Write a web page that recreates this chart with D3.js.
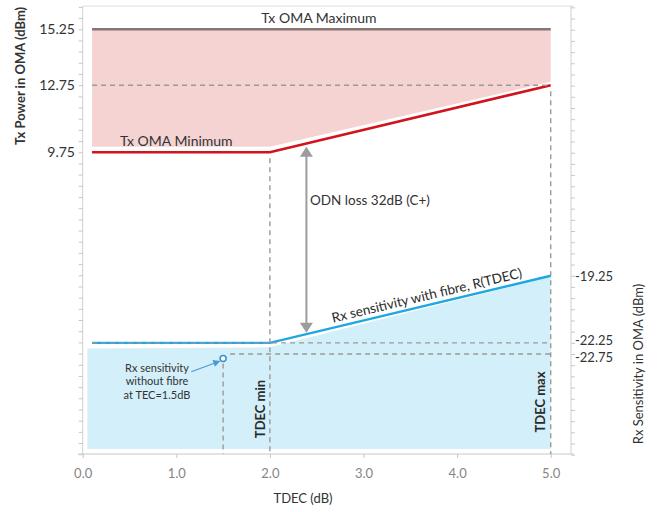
<!DOCTYPE html>
<html>
<head>
<meta charset="utf-8">
<script src="https://cdn.jsdelivr.net/npm/d3@7/dist/d3.min.js"></script>
<style>
  html, body { margin: 0; padding: 0; background: #fff; }
  svg { display: block; font-family: Lato, "Open Sans", sans-serif; }
</style>
</head>
<body>
<svg id="chart" width="668" height="512"></svg>
<script>
// ---------- data ----------
const tdec = [0.1, 2.0, 5.0];                 // TDEC breakpoints (dB)
const txMax = [15.25, 15.25, 15.25];          // Tx OMA maximum (dBm)
const txMin = [9.75, 9.75, 12.75];            // Tx OMA minimum (dBm)
const rxSens = [-22.25, -22.25, -19.25];      // Rx sensitivity with fibre (dBm)
const txFillX = [0.1, 2.0, 5.0];
const txFillBottom = [10.0, 10.0, 12.9];
const rxFillX = [0.05, 2.0, 5.0];
const rxFillTop = [-22.5, -22.45, -19.3];
const rxFloor = -27.0;
const xTicks = [0, 1, 2, 3, 4, 5];
const leftTickLabels = [15.25, 12.75, 9.75];
const rightTickLabels = [-19.25, -22.25, -22.75];
const txDashLevel = 12.75;
const rxDashLevels = [-22.25, -22.75];
const tdecMin = 2.0, tdecMax = 5.0;
const rxNoFibre = { x: 1.5, y: -22.95 };
const odnArrow = { x: 2.39, top: 10.0, bottom: -21.8 };
const noteArrow = { x0: 1.16, y0: -23.54, x1: 1.47, y1: -23.06 };

// ---------- scales ----------
const svg = d3.select("#chart");
const x = d3.scaleLinear().domain([0, 5]).range([82.7, 550.7]);
const yL = d3.scaleLinear().domain([-3.74, 16.29]).range([454, 6]);
const yR = d3.scaleLinear().domain([-27.22, -7.19]).range([454, 6]);
const X0 = 82.7, X1 = 571, YT = 6, YB = 454;

// ---------- frame ----------
svg.append("line").attr("x1", X0).attr("x2", X1 + 3).attr("y1", YT).attr("y2", YT).attr("stroke", "#dedede").attr("stroke-width", 1);
const leftMinor = d3.range(16.25, -3.8, -0.5);
const gl = svg.append("g").attr("transform", `translate(${X0},0)`)
  .call(d3.axisLeft(yL).tickValues(leftMinor).tickSize(4).tickFormat(""));
gl.select(".domain").attr("stroke", "#d0d0d0").attr("d", `M0,${YT}V${YB}`);
gl.selectAll(".tick line").attr("stroke", "#c8c8c8");
const rightMinor = d3.range(-7.25, -27.3, -0.5);
const gr = svg.append("g").attr("transform", `translate(${X1},0)`)
  .call(d3.axisRight(yR).tickValues(rightMinor).tickSize(4).tickFormat(""));
gr.select(".domain").attr("stroke", "#d0d0d0").attr("d", `M0,${YT}V${YB}`);
gr.selectAll(".tick line").attr("stroke", "#c8c8c8");

// ---------- fills ----------
const txArea = d3.area().x((d, i) => x(txFillX[i])).y0((d, i) => yL(txFillBottom[i])).y1((d, i) => yL(txMax[i]));
svg.append("path").datum(txFillX).attr("d", txArea).attr("fill", "#f6d3d3");
const rxArea = d3.area().x((d, i) => x(rxFillX[i])).y0(() => yR(rxFloor)).y1((d, i) => yR(rxFillTop[i]));
svg.append("path").datum(rxFillX).attr("d", rxArea).attr("fill", "#d3eff9");

// ---------- x axis ----------
const gx = svg.append("g").attr("transform", `translate(0,${YB})`)
  .call(d3.axisBottom(x).tickValues(xTicks).tickSize(4).tickFormat(d3.format(".1f")));
gx.select(".domain").attr("stroke", "#c8c8c8").attr("d", `M78,0H${X1 + 3}`);
gx.selectAll(".tick line").attr("stroke", "#c8c8c8");
gx.selectAll(".tick text").attr("fill", "#858585").attr("font-size", 13).attr("dy", "1.3em")
  .attr("font-family", "Lato, sans-serif");

// ---------- lines ----------
const lineL = d3.line().x((d, i) => x(tdec[i])).y(d => yL(d));
const lineR = d3.line().x((d, i) => x(tdec[i])).y(d => yR(d));
svg.append("path").datum(txMax).attr("d", lineL).attr("fill", "none").attr("stroke", "#857575").attr("stroke-width", 2.5);
svg.append("path").datum(txMin).attr("d", lineL).attr("fill", "none").attr("stroke", "#d2121c").attr("stroke-width", 2.6);
svg.append("path").datum(rxSens).attr("d", lineR).attr("fill", "none").attr("stroke", "#1ea7e1").attr("stroke-width", 2.4);

// ---------- dashed guide lines ----------
const dash = svg.append("g").attr("stroke", "#9a9a9a").attr("stroke-width", 1.4).attr("stroke-dasharray", "5,4").attr("fill", "none");
dash.append("line").attr("x1", x(tdec[0])).attr("x2", x(tdecMax)).attr("y1", yL(txDashLevel)).attr("y2", yL(txDashLevel));
dash.append("line").attr("x1", x(tdecMin)).attr("x2", x(tdecMin)).attr("y1", yL(txMin[1]) + 6).attr("y2", YB);
dash.append("line").attr("x1", x(tdecMax)).attr("x2", x(tdecMax)).attr("y1", yL(txDashLevel) + 6).attr("y2", YB);
dash.append("line").attr("x1", x(rxNoFibre.x)).attr("x2", x(rxNoFibre.x)).attr("y1", yR(rxNoFibre.y) + 5).attr("y2", YB);
dash.append("line").attr("x1", x(rxNoFibre.x) + 7).attr("x2", x(tdecMax)).attr("y1", yR(rxDashLevels[1])).attr("y2", yR(rxDashLevels[1]));
dash.append("line").attr("x1", x(tdec[0])).attr("x2", x(tdecMax)).attr("y1", yR(rxDashLevels[0])).attr("y2", yR(rxDashLevels[0]));

// ---------- ODN arrow ----------
const ax = x(odnArrow.x), aTop = yL(odnArrow.top), aBot = yR(odnArrow.bottom);
const arrowCol = "#9c9c9c";
svg.append("line").attr("x1", ax).attr("x2", ax).attr("y1", aTop + 8).attr("y2", aBot - 8).attr("stroke", arrowCol).attr("stroke-width", 2);
svg.append("path").attr("d", `M${ax},${aTop}L${ax - 6.5},${aTop + 10}L${ax + 6.5},${aTop + 10}Z`).attr("fill", arrowCol);
svg.append("path").attr("d", `M${ax},${aBot}L${ax - 6.5},${aBot - 10}L${ax + 6.5},${aBot - 10}Z`).attr("fill", arrowCol);

// ---------- Rx no-fibre point + note ----------
svg.append("circle").attr("cx", x(rxNoFibre.x)).attr("cy", yR(rxNoFibre.y)).attr("r", 3)
  .attr("fill", "#fff").attr("stroke", "#3a8fc8").attr("stroke-width", 1.5);
const nx0 = x(noteArrow.x0), ny0 = yR(noteArrow.y0), nx1 = x(noteArrow.x1), ny1 = yR(noteArrow.y1);
const ang = Math.atan2(ny1 - ny0, nx1 - nx0);
svg.append("line").attr("x1", nx0).attr("y1", ny0).attr("x2", nx1 - 5 * Math.cos(ang)).attr("y2", ny1 - 5 * Math.sin(ang))
  .attr("stroke", "#4b9ad3").attr("stroke-width", 1.2);
svg.append("path").attr("transform", `translate(${nx1},${ny1}) rotate(${ang * 180 / Math.PI})`)
  .attr("d", "M0,0L-7,-3.5L-7,3.5Z").attr("fill", "#4b9ad3");
const note = svg.append("text").attr("x", 157).attr("y", 372).attr("text-anchor", "middle")
  .attr("font-size", 11).attr("fill", "#333");
["Rx sensitivity", "without fibre", "at TEC=1.5dB"].forEach((t, i) =>
  note.append("tspan").attr("x", 157).attr("dy", i === 0 ? 0 : 13.4).text(t));

// ---------- labels ----------
const txt = (s, px, py, opts = {}) => svg.append("text").attr("x", px).attr("y", py)
  .attr("font-size", opts.size || 13).attr("fill", opts.fill || "#3c3c3c")
  .attr("font-weight", opts.weight || "normal")
  .attr("text-anchor", opts.anchor || "start")
  .attr("transform", opts.rotate ? `rotate(${opts.rotate},${px},${py})` : null)
  .text(s);

txt("Tx OMA Maximum", 319, 23, { anchor: "middle", size: 14, fill: "#333" });
txt("Tx OMA Minimum", 120, 146, { size: 14, fill: "#333" });
txt("ODN loss 32dB (C+)", 310, 205, { size: 13.5, fill: "#333" });

// sloped Rx label
const sx0 = x(tdec[1]), sy0 = yR(rxSens[1]), sx1 = x(tdec[2]), sy1 = yR(rxSens[2]);
const slope = Math.atan2(sy1 - sy0, sx1 - sx0) * 180 / Math.PI;
const lx = x(3.7), ly = yR(rxSens[1] + (3.7 - tdec[1]) * (rxSens[2] - rxSens[1]) / (tdec[2] - tdec[1]));
svg.append("text").attr("transform", `translate(${lx},${ly}) rotate(${slope})`).attr("y", -5)
  .attr("text-anchor", "middle").attr("font-size", 13.5).attr("fill", "#2a2a2a").text("Rx sensitivity with fibre, R(TDEC)");

txt("TDEC min", x(tdecMin) - 5, 409, { anchor: "middle", rotate: -90, weight: "bold", size: 13, fill: "#2a2a2a" });
txt("TDEC max", x(tdecMax) - 6, 402, { anchor: "middle", rotate: -90, weight: "bold", size: 13, fill: "#2a2a2a" });

// tick labels
leftTickLabels.forEach(v => txt(d3.format(".2f")(v), 75, yL(v) + 5, { anchor: "end", size: 14, fill: "#333" }));
const rightDy = [5, 2.5, 8];
rightTickLabels.forEach((v, i) => txt(d3.format(".2f")(v).replace("\u2212", "-"), 575, yR(v) + rightDy[i], { size: 13, fill: "#333" }));

// axis titles
txt("Tx Power in OMA (dBm)", 25, 76, { anchor: "middle", rotate: -90, size: 13, fill: "#333", weight: "bold" });
txt("Rx Sensitivity in OMA (dBm)", 643, 364, { anchor: "middle", rotate: -90, size: 13, fill: "#333" });
txt("TDEC (dB)", 303, 503, { anchor: "middle", size: 13, fill: "#333" });
</script>
</body>
</html>
